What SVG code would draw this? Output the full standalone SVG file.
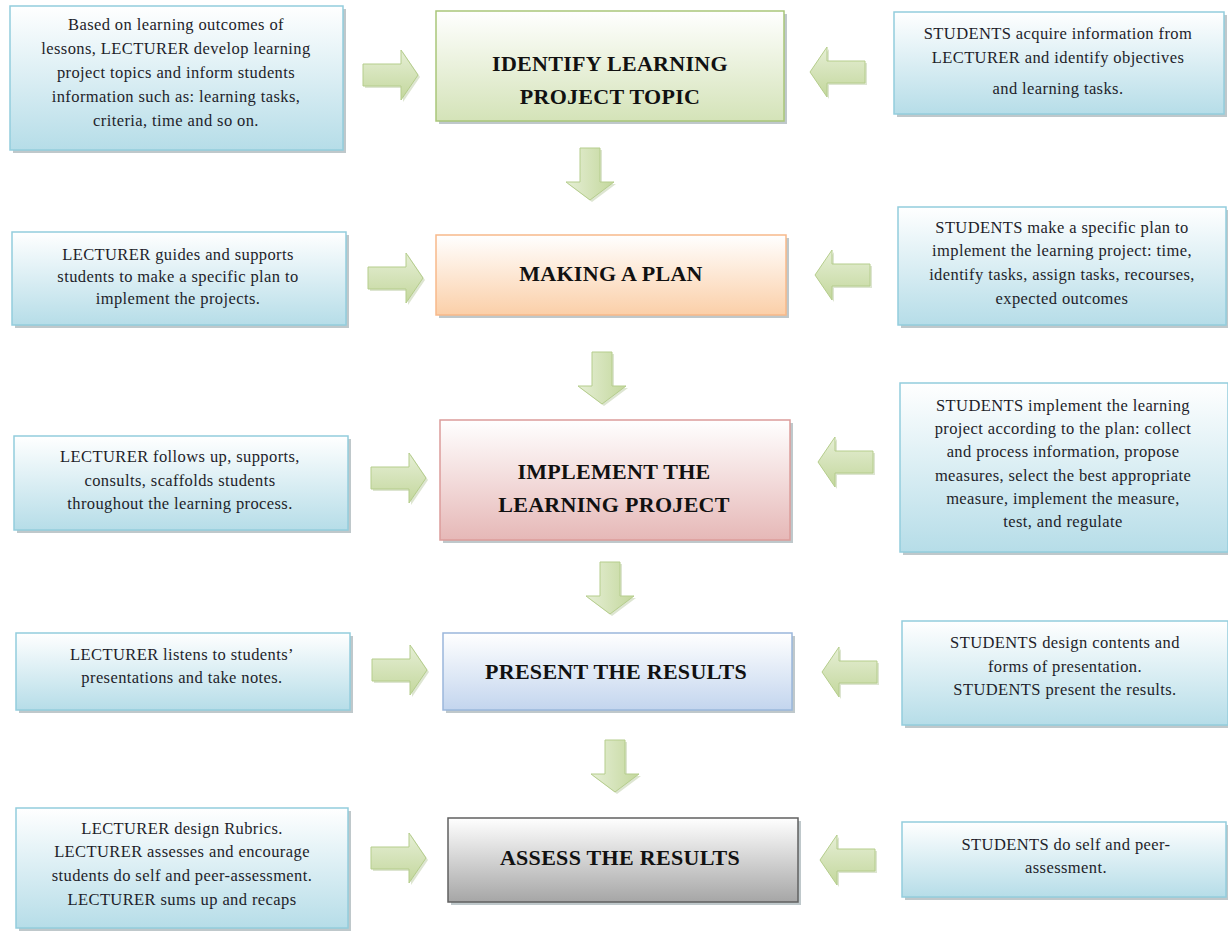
<svg xmlns="http://www.w3.org/2000/svg" width="1228" height="932" viewBox="0 0 1228 932">
<defs>
<linearGradient id="gSide" x1="0" y1="0" x2="0" y2="1"><stop offset="0" stop-color="#ffffff"/><stop offset="1" stop-color="#b6dde8"/></linearGradient>
<linearGradient id="gGreen" x1="0" y1="0" x2="0" y2="1"><stop offset="0" stop-color="#ffffff"/><stop offset="1" stop-color="#d4e3b8"/></linearGradient>
<linearGradient id="gOrange" x1="0" y1="0" x2="0" y2="1"><stop offset="0" stop-color="#ffffff"/><stop offset="1" stop-color="#fbcfa8"/></linearGradient>
<linearGradient id="gRed" x1="0" y1="0" x2="0" y2="1"><stop offset="0" stop-color="#ffffff"/><stop offset="1" stop-color="#e6b8b7"/></linearGradient>
<linearGradient id="gBlue" x1="0" y1="0" x2="0" y2="1"><stop offset="0" stop-color="#ffffff"/><stop offset="1" stop-color="#c3d5ee"/></linearGradient>
<linearGradient id="gGray" x1="0" y1="0" x2="0" y2="1"><stop offset="0" stop-color="#ffffff"/><stop offset="1" stop-color="#a6a6a6"/></linearGradient>
<linearGradient id="gArrow" x1="0" y1="0" x2="0" y2="1"><stop offset="0" stop-color="#e6efd6"/><stop offset="1" stop-color="#c3d79c"/></linearGradient>
<linearGradient id="gArrowV" x1="0" y1="0" x2="1" y2="0"><stop offset="0" stop-color="#e6efd6"/><stop offset="1" stop-color="#c3d79c"/></linearGradient>
<path id="arR" d="M0,-11 L38,-11 L38,-25 L55,0 L38,25 L38,11 L0,11 Z"/>
<path id="arL" d="M0,-11 L-38,-11 L-38,-25 L-55,0 L-38,25 L-38,11 L0,11 Z"/>
<path id="arD" d="M-10,0 L10,0 L10,34 L24,34 L0,52 L-24,34 L-10,34 Z"/>
</defs>
<style>
.side{fill:url(#gSide);stroke:#93cddd;stroke-width:1.5}
.shadow{fill:#8a9aa0;opacity:0.55}
.t{font-family:"Liberation Serif","DejaVu Serif",serif;font-size:16.5px;letter-spacing:0.4px;fill:#1e1e2a;text-anchor:middle}
.h{font-family:"Liberation Serif","DejaVu Serif",serif;font-size:22px;letter-spacing:0.3px;font-weight:bold;fill:#111;text-anchor:middle}
.arr{fill:url(#gArrow);stroke:#b5cd8c;stroke-width:1}
.arrv{fill:url(#gArrowV);stroke:#b5cd8c;stroke-width:1}
.arrs{fill:#9fb57a;opacity:0.35}
</style>
<rect width="1228" height="932" fill="#ffffff"/>

<g id="connectors">
<!-- right-pointing arrows -->
<use href="#arR" class="arrs" transform="translate(365,77)"/><use href="#arR" class="arr" transform="translate(363,75)"/>
<use href="#arR" class="arrs" transform="translate(370,280)"/><use href="#arR" class="arr" transform="translate(368,278)"/>
<use href="#arR" class="arrs" transform="translate(373,480)"/><use href="#arR" class="arr" transform="translate(371,478)"/>
<use href="#arR" class="arrs" transform="translate(374,672)"/><use href="#arR" class="arr" transform="translate(372,670)"/>
<use href="#arR" class="arrs" transform="translate(373,860)"/><use href="#arR" class="arr" transform="translate(371,858)"/>
<!-- left-pointing arrows -->
<use href="#arL" class="arrs" transform="translate(867,74)"/><use href="#arL" class="arr" transform="translate(865,72)"/>
<use href="#arL" class="arrs" transform="translate(872,277)"/><use href="#arL" class="arr" transform="translate(870,275)"/>
<use href="#arL" class="arrs" transform="translate(875,464)"/><use href="#arL" class="arr" transform="translate(873,462)"/>
<use href="#arL" class="arrs" transform="translate(879,674)"/><use href="#arL" class="arr" transform="translate(877,672)"/>
<use href="#arL" class="arrs" transform="translate(877,862)"/><use href="#arL" class="arr" transform="translate(875,860)"/>
<!-- down arrows -->
<use href="#arD" class="arrs" transform="translate(592,150)"/><use href="#arD" class="arrv" transform="translate(590,148)"/>
<use href="#arD" class="arrs" transform="translate(604,354)"/><use href="#arD" class="arrv" transform="translate(602,352)"/>
<use href="#arD" class="arrs" transform="translate(612,564)"/><use href="#arD" class="arrv" transform="translate(610,562)"/>
<use href="#arD" class="arrs" transform="translate(617,742)"/><use href="#arD" class="arrv" transform="translate(615,740)"/>
</g>

<!-- center nodes -->
<g id="identify">
<rect x="439" y="14" width="348" height="110" class="shadow"/>
<rect x="436" y="11" width="348" height="110" fill="url(#gGreen)" stroke="#a9c67a" stroke-width="1.5"/>
<text class="h" x="610" y="71">IDENTIFY LEARNING</text>
<text class="h" x="610" y="104">PROJECT TOPIC</text>
</g>
<g id="plan">
<rect x="439" y="238" width="350" height="80" class="shadow"/>
<rect x="436" y="235" width="350" height="80" fill="url(#gOrange)" stroke="#f8b98a" stroke-width="1.5"/>
<text class="h" x="611" y="281">MAKING A PLAN</text>
</g>
<g id="implement">
<rect x="443" y="423" width="350" height="120" class="shadow"/>
<rect x="440" y="420" width="350" height="120" fill="url(#gRed)" stroke="#dc9c9a" stroke-width="1.5"/>
<text class="h" x="614" y="479">IMPLEMENT THE</text>
<text class="h" x="614" y="512">LEARNING PROJECT</text>
</g>
<g id="present">
<rect x="446" y="636" width="349" height="77" class="shadow"/>
<rect x="443" y="633" width="349" height="77" fill="url(#gBlue)" stroke="#9ab7db" stroke-width="1.5"/>
<text class="h" x="616" y="679">PRESENT THE RESULTS</text>
</g>
<g id="assess">
<rect x="451" y="821" width="350" height="84" class="shadow"/>
<rect x="448" y="818" width="350" height="84" fill="url(#gGray)" stroke="#606060" stroke-width="1.5"/>
<text class="h" x="620" y="865">ASSESS THE RESULTS</text>
</g>

<!-- lecturer nodes -->
<g id="lecturer1">
<rect x="13" y="9" width="333" height="144" class="shadow"/>
<rect x="10" y="6" width="333" height="144" class="side"/>
<text class="t" x="176" y="30">Based on learning outcomes of</text>
<text class="t" x="176" y="54">lessons, LECTURER develop learning</text>
<text class="t" x="176" y="78">project topics and inform students</text>
<text class="t" x="176" y="102">information such as: learning tasks,</text>
<text class="t" x="176" y="126">criteria, time and so on.</text>
</g>
<g id="lecturer2">
<rect x="15" y="235" width="334" height="93" class="shadow"/>
<rect x="12" y="232" width="334" height="93" class="side"/>
<text class="t" x="178" y="260">LECTURER guides and supports</text>
<text class="t" x="178" y="282">students to make a specific plan to</text>
<text class="t" x="178" y="304">implement the projects.</text>
</g>
<g id="lecturer3">
<rect x="17" y="439" width="334" height="94" class="shadow"/>
<rect x="14" y="436" width="334" height="94" class="side"/>
<text class="t" x="180" y="462">LECTURER follows up, supports,</text>
<text class="t" x="180" y="486">consults, scaffolds students</text>
<text class="t" x="180" y="509">throughout the learning process.</text>
</g>
<g id="lecturer4">
<rect x="19" y="636" width="334" height="77" class="shadow"/>
<rect x="16" y="633" width="334" height="77" class="side"/>
<text class="t" x="182" y="660">LECTURER listens to students’</text>
<text class="t" x="182" y="683">presentations and take notes.</text>
</g>
<g id="lecturer5">
<rect x="19" y="811" width="332" height="120" class="shadow"/>
<rect x="16" y="808" width="332" height="120" class="side"/>
<text class="t" x="182" y="834">LECTURER design Rubrics.</text>
<text class="t" x="182" y="857">LECTURER assesses and encourage</text>
<text class="t" x="182" y="881">students do self and peer-assessment.</text>
<text class="t" x="182" y="905">LECTURER sums up and recaps</text>
</g>

<!-- student nodes -->
<g id="students1">
<rect x="897" y="15" width="330" height="102" class="shadow"/>
<rect x="894" y="12" width="330" height="102" class="side"/>
<text class="t" x="1058" y="39">STUDENTS acquire information from</text>
<text class="t" x="1058" y="63">LECTURER and identify objectives</text>
<text class="t" x="1058" y="94">and learning tasks.</text>
</g>
<g id="students2">
<rect x="901" y="210" width="328" height="118" class="shadow"/>
<rect x="898" y="207" width="328" height="118" class="side"/>
<text class="t" x="1062" y="233">STUDENTS make a specific plan to</text>
<text class="t" x="1062" y="256">implement the learning project: time,</text>
<text class="t" x="1062" y="280">identify tasks, assign tasks, recourses,</text>
<text class="t" x="1062" y="304">expected outcomes</text>
</g>
<g id="students3">
<rect x="903" y="386" width="328" height="169" class="shadow"/>
<rect x="900" y="383" width="328" height="169" class="side"/>
<text class="t" x="1063" y="411">STUDENTS implement the learning</text>
<text class="t" x="1063" y="434">project according to the plan: collect</text>
<text class="t" x="1063" y="457">and process information, propose</text>
<text class="t" x="1063" y="481">measures, select the best appropriate</text>
<text class="t" x="1063" y="504">measure, implement the measure,</text>
<text class="t" x="1063" y="527">test, and regulate</text>
</g>
<g id="students4">
<rect x="905" y="624" width="326" height="104" class="shadow"/>
<rect x="902" y="621" width="326" height="104" class="side"/>
<text class="t" x="1065" y="648">STUDENTS design contents and</text>
<text class="t" x="1065" y="672">forms of presentation.</text>
<text class="t" x="1065" y="695">STUDENTS present the results.</text>
</g>
<g id="students5">
<rect x="905" y="825" width="324" height="75" class="shadow"/>
<rect x="902" y="822" width="324" height="75" class="side"/>
<text class="t" x="1066" y="850">STUDENTS do self and peer-</text>
<text class="t" x="1066" y="873">assessment.</text>
</g>
</svg>
